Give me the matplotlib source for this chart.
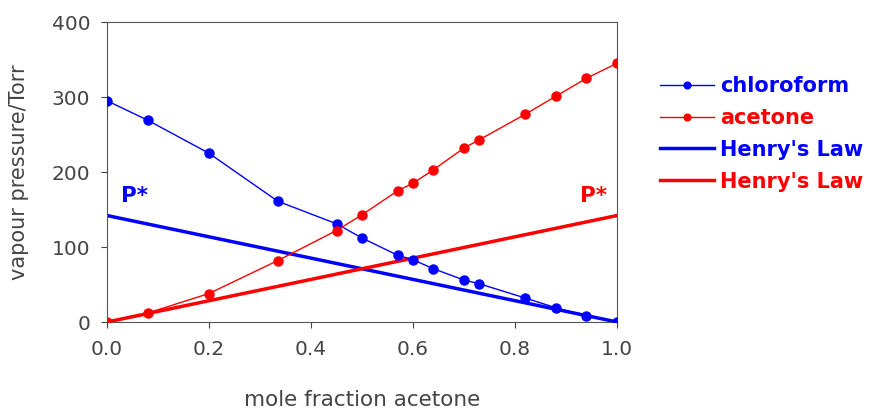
import matplotlib
matplotlib.use("Agg")
import matplotlib.pyplot as plt

plt.rcParams['font.family'] = ['DejaVu Sans']

x_frac = [0.0, 0.08, 0.2, 0.335, 0.45, 0.5, 0.57, 0.6, 0.64, 0.70, 0.73, 0.82, 0.88, 0.94, 1.0]
chloroform = [295, 269, 225, 161, 131, 112, 89, 83, 71, 56, 51, 32, 19, 8, 0]
acetone = [0, 12, 38, 82, 122, 143, 175, 185, 203, 232, 243, 277, 301, 325, 345]
henry_x = [0.0, 1.0]
henry_chloro = [142, 0]
henry_acetone = [0, 142]

blue = '#0000ff'
red = '#ff0000'
grey = '#444444'

fig = plt.figure(figsize=(8.74, 4.13), dpi=100)
ax = fig.add_axes([0.1224, 0.2203, 0.5836, 0.7264])

ax.plot(x_frac, chloroform, '-o', color=blue, lw=1, ms=6.5, label='chloroform', zorder=3)
ax.plot(x_frac, acetone, '-o', color=red, lw=1, ms=6.5, label='acetone', zorder=3)
ax.plot(henry_x, henry_chloro, '-', color=blue, lw=2.5, label="Henry's Law")
ax.plot(henry_x, henry_acetone, '-', color=red, lw=2.5, label="Henry's Law")

ax.text(0.028, 160, 'P*', color=blue, fontsize=15.5, fontweight='bold')
ax.text(0.928, 160, 'P*', color=red, fontsize=15.5, fontweight='bold')

ax.set_xlim(0, 1.0)
ax.set_ylim(0, 400)
ax.set_xticks([0.0, 0.2, 0.4, 0.6, 0.8, 1.0])
ax.set_xticklabels(['0.0', '0.2', '0.4', '0.6', '0.8', '1.0'])
ax.set_yticks([0, 100, 200, 300, 400])
ax.tick_params(labelsize=14.5, colors=grey, length=4)
ax.tick_params(axis='x', pad=9)
ax.tick_params(axis='y', pad=8)
for s in ax.spines.values():
    s.set_color('#555555')
ax.set_xlabel('mole fraction acetone', fontsize=15.5, color=grey, labelpad=22)
ax.set_ylabel('vapour pressure/Torr', fontsize=15, color=grey, labelpad=16)

leg = ax.legend(loc='upper left', bbox_to_anchor=(1.084, 0.82), frameon=False,
                fontsize=15, handlelength=2.6, handletextpad=0.3, markerscale=0.75,
                labelspacing=0.57, borderaxespad=0, borderpad=0)
for t, c in zip(leg.get_texts(), [blue, red, blue, red]):
    t.set_color(c)
    t.set_fontweight('bold')

plt.savefig('out.png', dpi=100)
